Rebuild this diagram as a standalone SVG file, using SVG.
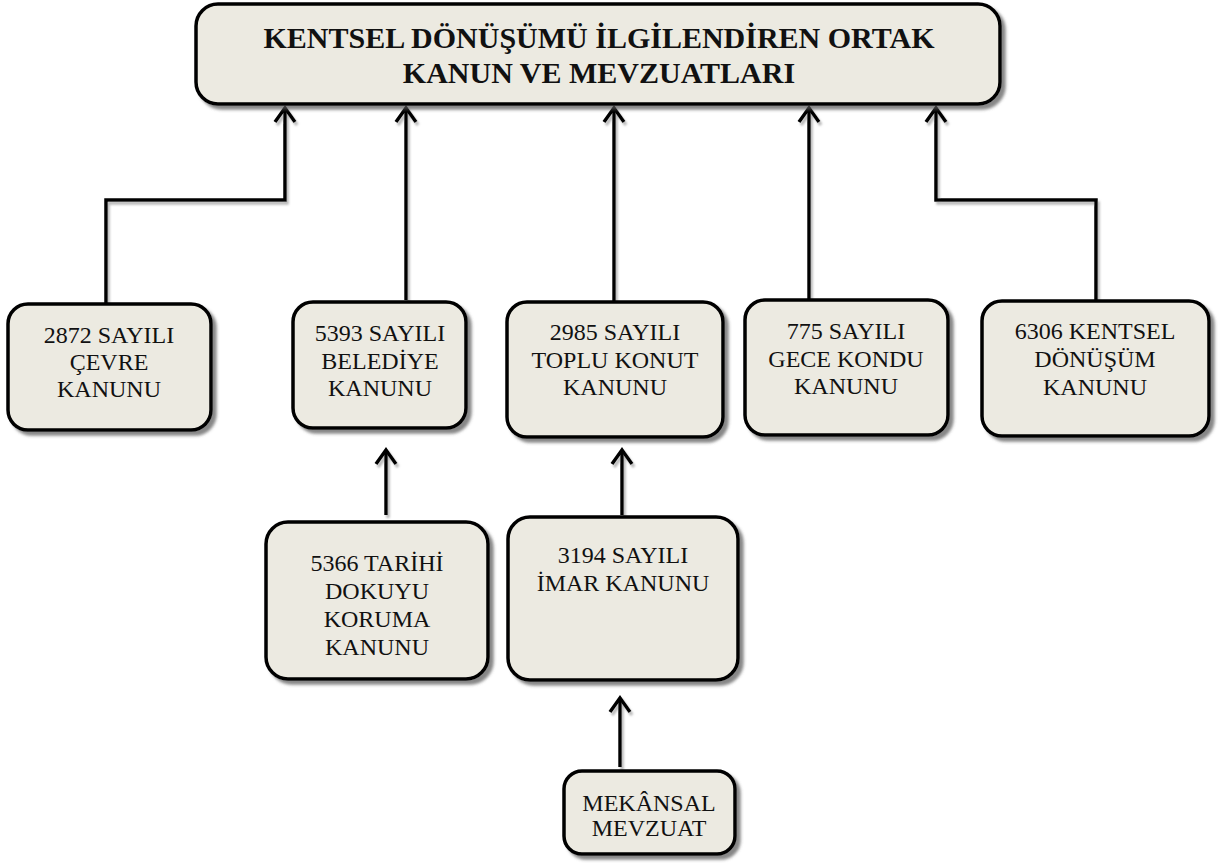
<svg xmlns="http://www.w3.org/2000/svg" width="1221" height="866" viewBox="0 0 1221 866">
<style>
.box{fill:#ECEAE1;stroke:#000;stroke-width:3.5;filter:url(#sh)}
.t{font-family:"Liberation Serif","Times New Roman",serif;font-size:24px;fill:#111;text-anchor:middle}
.tt{font-family:"Liberation Serif","Times New Roman",serif;font-size:30px;font-weight:bold;fill:#111;text-anchor:middle}
.c{fill:none;stroke:#000;stroke-width:3.5;marker-end:url(#arr)}
</style>
<defs>
<filter id="sh" x="-10%" y="-10%" width="130%" height="130%">
<feDropShadow dx="4" dy="4" stdDeviation="1.5" flood-color="#555" flood-opacity="0.7"/>
</filter>
<filter id="sh2" x="-10%" y="-10%" width="130%" height="130%">
<feDropShadow dx="2" dy="3" stdDeviation="1" flood-color="#888" flood-opacity="0.6"/>
</filter>
<marker id="arr" viewBox="-18 -13 22 26" markerWidth="22" markerHeight="26" refX="0" refY="0" orient="auto" markerUnits="userSpaceOnUse">
<path d="M-14,-10 L0,0 L-14,10" fill="none" stroke="#000" stroke-width="3.5"/>
</marker>
</defs>
<g id="connectors" filter="url(#sh2)">
<path class="c" d="M106,304 V200 H285 V108"/>
<path class="c" d="M406,300 V108"/>
<path class="c" d="M614,302 V108"/>
<path class="c" d="M809,300 V108"/>
<path class="c" d="M1096,301 V200 H936 V108"/>
<path class="c" d="M386,515 V450"/>
<path class="c" d="M622,515 V450"/>
<path class="c" d="M620,767 V698"/>
</g>
<g id="title">
<rect class="box" x="196" y="4" width="804" height="100" rx="22"/>
<text class="tt" x="599" y="48">KENTSEL DÖNÜŞÜMÜ İLGİLENDİREN ORTAK</text>
<text class="tt" x="599" y="83">KANUN VE MEVZUATLARI</text>
</g>
<g id="n2872">
<rect class="box" x="8" y="304" width="203" height="126" rx="20"/>
<text class="t" x="109" y="343">2872 SAYILI</text>
<text class="t" x="109" y="370">ÇEVRE</text>
<text class="t" x="109" y="397">KANUNU</text>
</g>
<g id="n5393">
<rect class="box" x="293" y="302" width="173" height="126" rx="20"/>
<text class="t" x="380" y="341">5393 SAYILI</text>
<text class="t" x="380" y="369">BELEDİYE</text>
<text class="t" x="380" y="396">KANUNU</text>
</g>
<g id="n2985">
<rect class="box" x="507" y="302" width="216" height="135" rx="20"/>
<text class="t" x="615" y="340">2985 SAYILI</text>
<text class="t" x="615" y="368">TOPLU KONUT</text>
<text class="t" x="615" y="395">KANUNU</text>
</g>
<g id="n775">
<rect class="box" x="745" y="300" width="203" height="135" rx="20"/>
<text class="t" x="846" y="339">775 SAYILI</text>
<text class="t" x="846" y="367">GECE KONDU</text>
<text class="t" x="846" y="394">KANUNU</text>
</g>
<g id="n6306">
<rect class="box" x="982" y="301" width="227" height="135" rx="20"/>
<text class="t" x="1095" y="339">6306 KENTSEL</text>
<text class="t" x="1095" y="367">DÖNÜŞÜM</text>
<text class="t" x="1095" y="395">KANUNU</text>
</g>
<g id="n5366">
<rect class="box" x="266" y="522" width="222" height="157" rx="22"/>
<text class="t" x="377" y="571">5366 TARİHİ</text>
<text class="t" x="377" y="599">DOKUYU</text>
<text class="t" x="377" y="627">KORUMA</text>
<text class="t" x="377" y="655">KANUNU</text>
</g>
<g id="n3194">
<rect class="box" x="508" y="517" width="230" height="163" rx="22"/>
<text class="t" x="623" y="563">3194 SAYILI</text>
<text class="t" x="623" y="591">İMAR KANUNU</text>
</g>
<g id="nmekansal">
<rect class="box" x="564" y="771" width="171" height="83" rx="18"/>
<text class="t" x="649" y="811">MEKÂNSAL</text>
<text class="t" x="649" y="836">MEVZUAT</text>
</g>
</svg>
